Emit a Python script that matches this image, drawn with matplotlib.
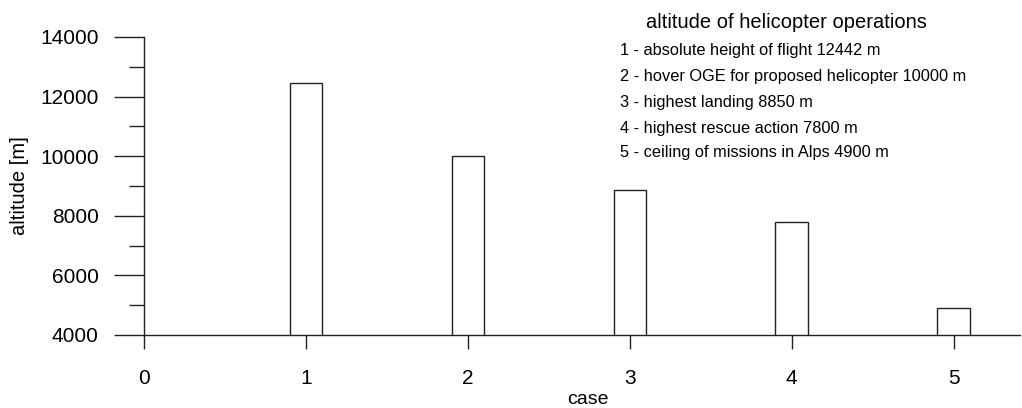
import matplotlib
matplotlib.use("Agg")
import matplotlib.pyplot as plt
from matplotlib.ticker import MultipleLocator

plt.rcParams['font.family'] = ['Liberation Sans', 'DejaVu Sans']

cases = [1, 2, 3, 4, 5]
altitudes = [12442, 10000, 8850, 7800, 4900]
x_ticks = [0, 1, 2, 3, 4, 5]
y_ticks = [4000, 6000, 8000, 10000, 12000, 14000]
legend_title = "altitude of helicopter operations"
legend_lines = [
    "1 - absolute height of flight 12442 m",
    "2 - hover OGE for proposed helicopter 10000 m",
    "3 - highest landing 8850 m",
    "4 - highest rescue action 7800 m",
    "5 - ceiling of missions in Alps 4900 m",
]

fig = plt.figure(figsize=(10.22, 4.08), dpi=100)
ax = fig.add_axes([144 / 1022, 1 - 335 / 408, (1020 - 144) / 1022, (335 - 37) / 408])

ax.bar(cases, altitudes, width=0.2, color="white", edgecolor="#222222", linewidth=1.0)

ax.set_xlim(0, 5.41)
ax.set_ylim(4000, 14000)
ax.set_xticks(x_ticks)
ax.set_yticks(y_ticks)
ax.yaxis.set_minor_locator(MultipleLocator(1000))

for side in ("top", "right"):
    ax.spines[side].set_visible(False)
for side in ("left", "bottom"):
    ax.spines[side].set_linewidth(1.0)
    ax.spines[side].set_color("#222222")

# tick lengths are in points (0.72 pt per pixel at 100 dpi)
ax.tick_params(axis="y", which="major", length=21.6, width=1.0, color="#222222",
               labelsize=15, pad=11)
ax.tick_params(axis="y", which="minor", length=10.8, width=1.0, color="#222222")
ax.tick_params(axis="x", which="major", length=10, width=1.0, color="#222222",
               labelsize=15, pad=14.5)

ax.set_xlabel("case", fontsize=14)
ax.set_ylabel("altitude [m]", fontsize=14.5)
ax.xaxis.set_label_coords((588 - 144) / 876, -(399 - 335) / 298)
ax.xaxis.label.set_va("center")
ax.yaxis.set_label_coords(-(144 - 20) / 876, (335 - 186) / 298)
ax.yaxis.label.set_va("center")

fig.text(786 / 1022, 1 - 22 / 408, legend_title, fontsize=14.5,
         ha="center", va="center")
line_y = [50, 76, 102, 128, 153]
for y, line in zip(line_y, legend_lines):
    fig.text(620 / 1022, 1 - y / 408, line, fontsize=11.8, ha="left", va="center")

fig.savefig("out.png", dpi=100)
